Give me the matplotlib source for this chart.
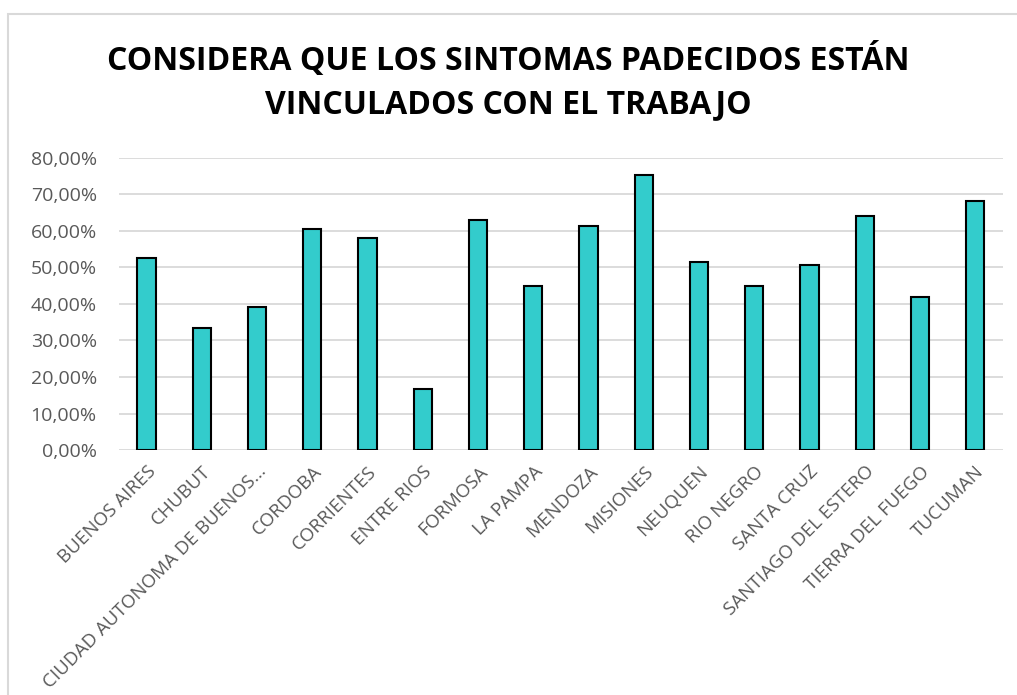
import matplotlib
matplotlib.use("Agg")
import matplotlib.pyplot as plt
from matplotlib.patches import Rectangle
from matplotlib.ticker import FuncFormatter

provincias = ["BUENOS AIRES", "CHUBUT", "CIUDAD AUTONOMA DE BUENOS...", "CORDOBA",
              "CORRIENTES", "ENTRE RIOS", "FORMOSA", "LA PAMPA", "MENDOZA",
              "MISIONES", "NEUQUEN", "RIO NEGRO", "SANTA CRUZ",
              "SANTIAGO DEL ESTERO", "TIERRA DEL FUEGO", "TUCUMAN"]
porcentajes = [52.6, 33.3, 39.3, 60.5, 58.1, 16.7, 62.9, 45.0, 61.3,
               75.4, 51.4, 44.9, 50.6, 64.2, 42.0, 68.1]
yticks = [0, 10, 20, 30, 40, 50, 60, 70, 80]

plt.rcParams['font.family'] = ['Open Sans', 'DejaVu Sans']

fig = plt.figure(figsize=(10.17, 6.95), dpi=100)
ax = fig.add_axes([0.117, 0.3525, 0.869, 0.4202])

# borde gris del area del grafico
fig.patches.append(Rectangle((7.5 / 1017, -0.1), 1.2, 1 - 13.5 / 695 + 0.1,
                             transform=fig.transFigure, fill=False,
                             edgecolor='#d9d9d9', linewidth=1.5))

x = range(len(provincias))
ax.bar(x, porcentajes, width=0.33, color='#33cccc', edgecolor='black',
       linewidth=1.5, zorder=3)

ax.set_ylim(0, 80)
ax.set_xlim(-0.5, len(provincias) - 0.5)
ax.set_yticks(yticks)
ax.yaxis.set_major_formatter(FuncFormatter(lambda v, p: f"{v:.2f}%".replace(".", ",")))
ax.grid(axis='y', color='#d9d9d9', linewidth=1.3, zorder=0)
for s in ax.spines.values():
    s.set_visible(False)
ax.tick_params(axis='both', length=0, colors='#595959')
ax.tick_params(axis='y', pad=16, labelsize=14)
ax.tick_params(axis='x', pad=9, labelsize=13.5)
ax.set_xticks(list(x))
ax.set_xticklabels(provincias, rotation=45, ha='right', rotation_mode='anchor')

fig.text(0.5, 0.913, "CONSIDERA QUE LOS SINTOMAS PADECIDOS ESTÁN", ha='center', va='center',
         fontsize=23, fontweight='bold', color='black')
fig.text(0.5, 0.849, "VINCULADOS CON EL TRABAJO", ha='center', va='center',
         fontsize=23, fontweight='bold', color='black')

plt.savefig('out.png', dpi=100)
